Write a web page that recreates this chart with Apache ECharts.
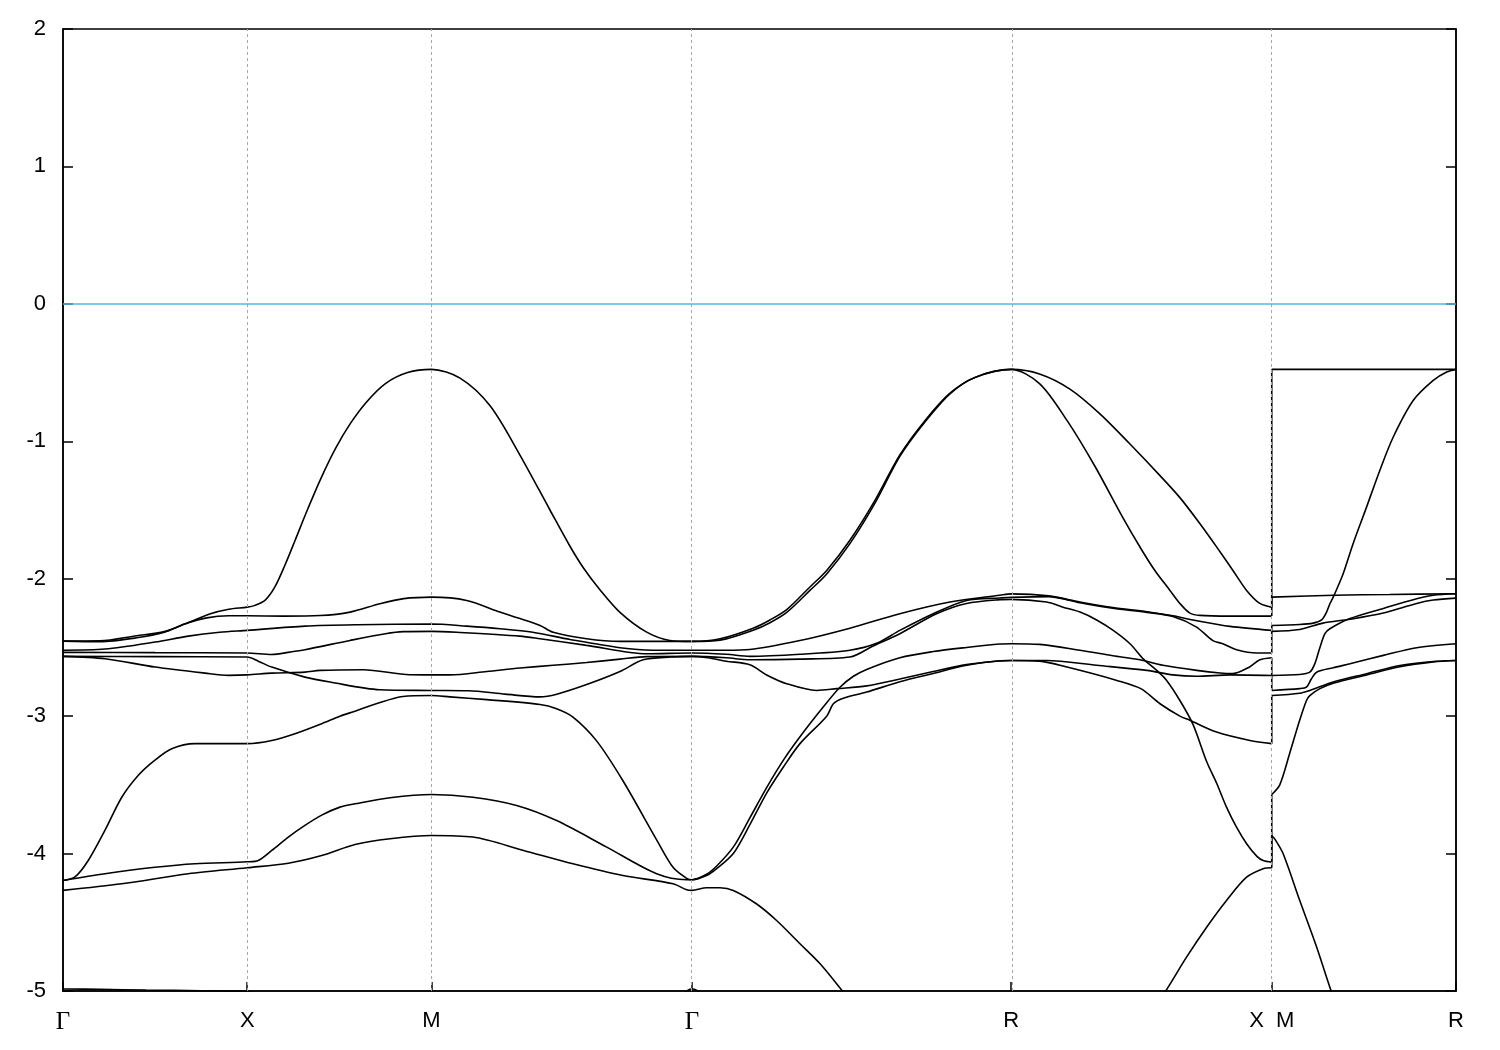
<!DOCTYPE html>
<html>
<head>
<meta charset="utf-8">
<script src="https://cdn.jsdelivr.net/npm/echarts@6/dist/echarts.min.js"></script>
<style>html,body{margin:0;padding:0;background:#fff;}#c{width:1500px;height:1050px;}</style>
</head>
<body>
<div id="c"></div>
<script>
// k-path tick positions and labels
const tickVals = [0, 1, 2, 3.4142, 5.1463, 6.5605, 7.5605];
const tickNames = ['Γ', 'X', 'M', 'Γ', 'R', 'X  M', 'R'];
const gridVals = [1, 2, 3.4142, 5.1463, 6.5605];
const yTicks = [-5, -4, -3, -2, -1, 0, 1, 2];
const fermiLevel = 0;

// Bands: [k, E]; repeated k = X|M discontinuity; null = leaves the window
const bandA = [[0,-2.454],[0.2,-2.452],[0.4,-2.415],[0.55,-2.385],[0.66,-2.33],[0.8,-2.255],[0.9,-2.222],[1,-2.207],
 [1.042,-2.194],[1.096,-2.158],[1.15,-2.06],[1.205,-1.90],[1.26,-1.72],[1.32,-1.52],[1.40,-1.27],[1.48,-1.05],[1.56,-0.87],[1.65,-0.71],[1.75,-0.58],[1.87,-0.50],[2,-0.477],
 [2.155,-0.54],[2.317,-0.74],[2.48,-1.10],[2.643,-1.50],[2.75,-1.76],[2.824,-1.92],[2.914,-2.08],[3.023,-2.245],[3.168,-2.389],[3.294,-2.449],[3.4142,-2.456],
 [3.566,-2.437],[3.746,-2.36],[3.837,-2.30],[3.928,-2.225],[4.054,-2.06],[4.145,-1.94],[4.271,-1.72],[4.407,-1.43],[4.542,-1.10],[4.678,-0.85],[4.814,-0.65],[4.95,-0.535],[5.1463,-0.477],
 [5.30,-0.51],[5.465,-0.62],[5.628,-0.80],[5.791,-1.02],[5.954,-1.25],[6.062,-1.41],[6.171,-1.60],[6.262,-1.77],[6.35,-1.94],[6.424,-2.085],[6.496,-2.18],[6.5605,-2.207],
 [6.5605,-0.477],[7.5605,-0.477]];
const bandB = [[0,-2.454],[0.2,-2.458],[0.4,-2.43],[0.55,-2.39],[0.66,-2.33],[0.78,-2.285],[0.9,-2.27],[1,-2.27],
 [1.2,-2.272],[1.395,-2.268],[1.558,-2.243],[1.72,-2.182],[1.85,-2.145],[2,-2.134],
 [2.191,-2.158],[2.372,-2.243],[2.48,-2.29],[2.589,-2.34],[2.661,-2.39],[2.842,-2.437],[3.023,-2.456],[3.4142,-2.456],
 [3.566,-2.447],[3.746,-2.375],[3.837,-2.32],[3.928,-2.245],[4.054,-2.085],[4.145,-1.965],[4.271,-1.745],[4.407,-1.45],[4.542,-1.11],[4.678,-0.86],[4.814,-0.655],[4.95,-0.535],[5.1463,-0.477],
 [5.30,-0.58],[5.45,-0.85],[5.60,-1.18],[5.75,-1.55],[5.85,-1.78],[5.926,-1.94],[6.008,-2.085],[6.062,-2.18],[6.116,-2.25],[6.171,-2.267],[6.334,-2.272],[6.5605,-2.272],
 [6.5605,-2.134],[6.9,-2.12],[7.2,-2.115],[7.5605,-2.109]];
const bandC = [[0,-2.52],[0.228,-2.512],[0.5,-2.461],[0.68,-2.418],[0.85,-2.39],[1,-2.376],
 [1.313,-2.345],[1.6,-2.335],[2,-2.33],
 [2.191,-2.345],[2.372,-2.364],[2.55,-2.39],[2.752,-2.442],[3.023,-2.502],[3.2,-2.52],[3.4142,-2.52],
 [3.6,-2.52],[3.728,-2.515],[4.0,-2.45],[4.271,-2.36],[4.542,-2.255],[4.814,-2.17],[5.085,-2.12],[5.1463,-2.11],
 [5.35,-2.125],[5.519,-2.17],[5.698,-2.21],[5.883,-2.24],[6.024,-2.27],[6.133,-2.30],[6.334,-2.347],[6.5605,-2.376],
 [6.5605,-2.34],[6.712,-2.333],[6.785,-2.323],[6.831,-2.30],[6.858,-2.243],[6.876,-2.182],[6.894,-2.134],[6.912,-2.08],[6.948,-1.964],[7.002,-1.745],[7.075,-1.479],[7.147,-1.212],[7.22,-0.969],[7.329,-0.702],[7.437,-0.557],[7.51,-0.496],[7.5605,-0.477]];
const bandD = [[0,-2.536],[0.5,-2.538],[1,-2.54],
 [1.133,-2.551],[1.232,-2.534],[1.313,-2.517],[1.558,-2.449],[1.75,-2.40],[1.847,-2.385],[2,-2.383],
 [2.137,-2.39],[2.48,-2.418],[2.589,-2.437],[2.842,-2.485],[3.168,-2.546],[3.4142,-2.54],
 [3.6,-2.55],[3.728,-2.565],[4.0,-2.55],[4.271,-2.52],[4.416,-2.47],[4.542,-2.376],[4.723,-2.255],[4.904,-2.158],[5.085,-2.14],[5.1463,-2.135],
 [5.35,-2.13],[5.519,-2.175],[5.698,-2.215],[5.883,-2.245],[6.024,-2.275],[6.15,-2.35],[6.241,-2.45],[6.295,-2.473],[6.37,-2.517],[6.48,-2.541],[6.5605,-2.54],
 [6.5605,-2.383],[6.712,-2.369],[6.838,-2.323],[6.985,-2.295],[7.166,-2.25],[7.347,-2.18],[7.437,-2.155],[7.5605,-2.141]];
const bandE = [[0,-2.565],[0.5,-2.567],[1,-2.57],
 [1.06,-2.60],[1.133,-2.643],[1.313,-2.716],[1.449,-2.752],[1.72,-2.808],[2,-2.813],
 [2.2,-2.815],[2.4,-2.84],[2.589,-2.86],[2.68,-2.84],[2.842,-2.77],[3.023,-2.675],[3.149,-2.59],[3.3,-2.57],[3.4142,-2.565],
 [3.6,-2.575],[3.728,-2.59],[4.0,-2.585],[4.271,-2.57],[4.397,-2.49],[4.542,-2.40],[4.741,-2.255],[4.904,-2.18],[5.085,-2.152],[5.1463,-2.15],
 [5.339,-2.17],[5.428,-2.207],[5.52,-2.243],[5.61,-2.30],[5.70,-2.376],[5.791,-2.473],[5.863,-2.583],[5.936,-2.667],[5.99,-2.74],[6.062,-2.886],[6.133,-3.06],[6.207,-3.33],[6.262,-3.49],[6.315,-3.662],[6.37,-3.81],[6.424,-3.928],[6.48,-4.02],[6.514,-4.05],[6.5605,-4.062],
 [6.5605,-3.57],[6.604,-3.50],[6.658,-3.27],[6.712,-3.03],[6.749,-2.886],[6.767,-2.85],[6.822,-2.80],[6.894,-2.76],[7.075,-2.70],[7.256,-2.64],[7.437,-2.605],[7.5605,-2.595]];
const bandF = [[0,-2.565],[0.228,-2.582],[0.5,-2.643],[0.771,-2.687],[0.9,-2.703],[1,-2.70],
 [1.133,-2.687],[1.313,-2.68],[1.395,-2.667],[1.63,-2.662],[1.883,-2.699],[2,-2.70],
 [2.1,-2.70],[2.3,-2.675],[2.48,-2.65],[2.661,-2.63],[2.842,-2.61],[3.023,-2.585],[3.168,-2.567],[3.4142,-2.565],
 [3.5,-2.575],[3.6,-2.60],[3.728,-2.626],[3.819,-2.70],[3.928,-2.764],[4.09,-2.813],[4.2,-2.80],[4.362,-2.78],[4.542,-2.73],[4.723,-2.675],[4.904,-2.625],[5.085,-2.598],[5.1463,-2.595],
 [5.34,-2.595],[5.61,-2.63],[5.883,-2.667],[6.024,-2.70],[6.15,-2.71],[6.334,-2.70],[6.5605,-2.704],
 [6.5605,-2.813],[6.712,-2.80],[6.749,-2.789],[6.776,-2.728],[6.804,-2.68],[6.894,-2.648],[6.985,-2.619],[7.166,-2.558],[7.347,-2.502],[7.5605,-2.473]];
const bandG = [[0,-4.196],[0.065,-4.17],[0.137,-4.05],[0.228,-3.83],[0.319,-3.59],[0.409,-3.43],[0.499,-3.32],[0.59,-3.237],[0.716,-3.20],[1,-3.20],
 [1.133,-3.177],[1.259,-3.128],[1.404,-3.055],[1.503,-3.0],[1.585,-2.964],[1.7,-2.91],[1.845,-2.857],[2,-2.85],
 [2.1,-2.86],[2.3,-2.88],[2.589,-2.915],[2.679,-2.946],[2.768,-3.007],[2.896,-3.18],[3.039,-3.47],[3.222,-3.90],[3.311,-4.10],[3.385,-4.18],[3.4142,-4.19],
 [3.493,-4.15],[3.548,-4.09],[3.638,-3.953],[3.728,-3.74],[3.819,-3.52],[3.91,-3.32],[4.0,-3.15],[4.126,-2.934],[4.217,-2.79],[4.29,-2.71],[4.362,-2.66],[4.542,-2.575],[4.723,-2.53],[4.904,-2.50],[5.085,-2.475],[5.1463,-2.473],
 [5.3,-2.478],[5.519,-2.52],[5.698,-2.56],[5.845,-2.59],[5.97,-2.63],[6.153,-2.667],[6.28,-2.686],[6.35,-2.69],[6.442,-2.64],[6.496,-2.59],[6.5605,-2.575],
 [6.5605,-2.704],[6.712,-2.697],[6.767,-2.68],[6.794,-2.62],[6.822,-2.50],[6.849,-2.40],[6.876,-2.364],[6.985,-2.29],[7.166,-2.216],[7.347,-2.146],[7.437,-2.12],[7.5605,-2.109]];
const bandH = [[0,-4.196],[0.228,-4.147],[0.499,-4.10],[0.716,-4.074],[1,-4.06],
 [1.06,-4.05],[1.133,-3.977],[1.223,-3.88],[1.313,-3.795],[1.404,-3.72],[1.503,-3.662],[1.585,-3.638],[1.775,-3.594],[2,-3.57],
 [2.225,-3.59],[2.462,-3.65],[2.679,-3.76],[2.951,-3.953],[3.222,-4.147],[3.385,-4.19],[3.4142,-4.19],
 [3.493,-4.16],[3.548,-4.11],[3.638,-4.0],[3.728,-3.79],[3.819,-3.56],[3.91,-3.37],[4.0,-3.20],[4.145,-3.0],[4.181,-2.91],[4.235,-2.87],[4.362,-2.825],[4.542,-2.75],[4.723,-2.69],[4.904,-2.63],[5.085,-2.597],[5.1463,-2.595],
 [5.3,-2.60],[5.449,-2.643],[5.72,-2.74],[5.85,-2.80],[5.954,-2.91],[6.062,-3.0],[6.116,-3.03],[6.261,-3.116],[6.442,-3.177],[6.5605,-3.20],
 [6.5605,-2.85],[6.712,-2.833],[6.767,-2.813],[6.894,-2.752],[7.075,-2.691],[7.256,-2.631],[7.437,-2.602],[7.5605,-2.595]];
const bandI = [[0,-4.268],[0.319,-4.22],[0.68,-4.147],[1,-4.103],
 [1.223,-4.07],[1.404,-4.014],[1.585,-3.934],[1.775,-3.892],[2,-3.868],
 [2.225,-3.88],[2.5,-3.977],[2.768,-4.074],[3.039,-4.159],[3.311,-4.22],[3.385,-4.264],[3.4142,-4.268],
 [3.493,-4.249],[3.566,-4.249],[3.638,-4.268],[3.765,-4.367],[3.873,-4.487],[4.0,-4.656],[4.108,-4.80],[4.235,-5.008],[4.30,-5.12],
 null,
 [5.92,-5.12],[5.981,-5.008],[6.098,-4.754],[6.207,-4.536],[6.315,-4.341],[6.424,-4.172],[6.514,-4.11],[6.5605,-4.103],
 [6.5605,-3.868],[6.58,-3.90],[6.622,-4.0],[6.712,-4.34],[6.804,-4.68],[6.885,-5.008],[6.93,-5.15]];
const bandJ = [[0,-4.985],[0.2,-4.988],[0.45,-4.993],[0.75,-4.998],[1.0,-5.005],[1.1,-5.03]];
const bandK = [[3.36,-5.03],[3.39,-4.995],[3.4142,-4.985],[3.44,-4.995],[3.47,-5.03]];
const bands = [bandA, bandB, bandC, bandD, bandE, bandF, bandG, bandH, bandI, bandJ, bandK];

const chart = echarts.init(document.getElementById('c'), null, {renderer: 'canvas'});

const lineStyle = {color: '#000', width: 1.6};
const series = [];
bands.forEach(function (b) {
  let run = [];
  let prev = null;
  const flush = function () { if (run.length > 1) series.push(mk(run, 0.3)); run = []; };
  b.forEach(function (p) {
    if (p === null) { flush(); prev = null; return; }
    if (prev && Math.abs(prev[0] - p[0]) < 1e-9) {
      flush();
      series.push(mk([prev, p], 0));
    }
    run.push(p);
    prev = p;
  });
  flush();
});
function mk(data, smooth) {
  return {type: 'line', data: data, smooth: smooth, showSymbol: false, symbol: 'none',
    lineStyle: lineStyle, clip: true, silent: true, animation: false, z: 3};
}
// reference lines
series.push({
  type: 'line', data: [], silent: true, animation: false, z: 1,
  markLine: {
    silent: true, symbol: 'none', animation: false, label: {show: false},
    data: gridVals.map(function (v) { return {xAxis: v, lineStyle: {color: '#a8a8a8', type: [3, 3], width: 1}}; })
      .concat([{yAxis: fermiLevel, lineStyle: {color: '#56b4e9', type: 'solid', width: 1.5}}])
  }
});

function xLabel(v) {
  for (let i = 0; i < tickVals.length; i++) {
    if (Math.abs(v - tickVals[i]) < 1e-3) {
      const n = tickNames[i];
      return n === 'Γ' ? '{g|Γ}' : n;
    }
  }
  return '';
}

chart.setOption({
  backgroundColor: '#fff',
  animation: false,
  grid: {left: 63, right: 44, top: 29, bottom: 59, show: true, borderColor: '#000', borderWidth: 1.5, backgroundColor: 'transparent'},
  xAxis: {
    type: 'value', min: tickVals[0], max: tickVals[tickVals.length - 1],
    axisLine: {show: true, onZero: false, lineStyle: {color: '#000', width: 1.5}},
    axisTick: {show: true, inside: true, length: 9, lineStyle: {color: '#000', width: 1.5}, customValues: tickVals},
    axisLabel: {show: true, customValues: tickVals, formatter: xLabel, color: '#000', fontSize: 22,
      fontFamily: 'Liberation Sans, Arial, sans-serif', margin: 19,
      rich: {g: {fontFamily: 'Liberation Serif, DejaVu Serif, serif', fontSize: 25, color: '#000'}}},
    splitLine: {show: false}
  },
  yAxis: [{
    type: 'value', min: yTicks[0], max: yTicks[yTicks.length - 1], interval: 1,
    axisLine: {show: true, onZero: false, lineStyle: {color: '#000', width: 1.5}},
    axisTick: {show: true, inside: true, length: 10, lineStyle: {color: '#000', width: 1.5}},
    axisLabel: {show: true, color: '#000', fontSize: 22, fontFamily: 'Liberation Sans, Arial, sans-serif', margin: 17},
    splitLine: {show: false}
  }, {
    type: 'value', position: 'right', min: yTicks[0], max: yTicks[yTicks.length - 1], interval: 1,
    axisLine: {show: true, onZero: false, lineStyle: {color: '#000', width: 1.5}},
    axisTick: {show: true, inside: true, length: 10, lineStyle: {color: '#000', width: 1.5}},
    axisLabel: {show: false}, splitLine: {show: false}
  }],
  series: series
});
</script>
</body>
</html>
